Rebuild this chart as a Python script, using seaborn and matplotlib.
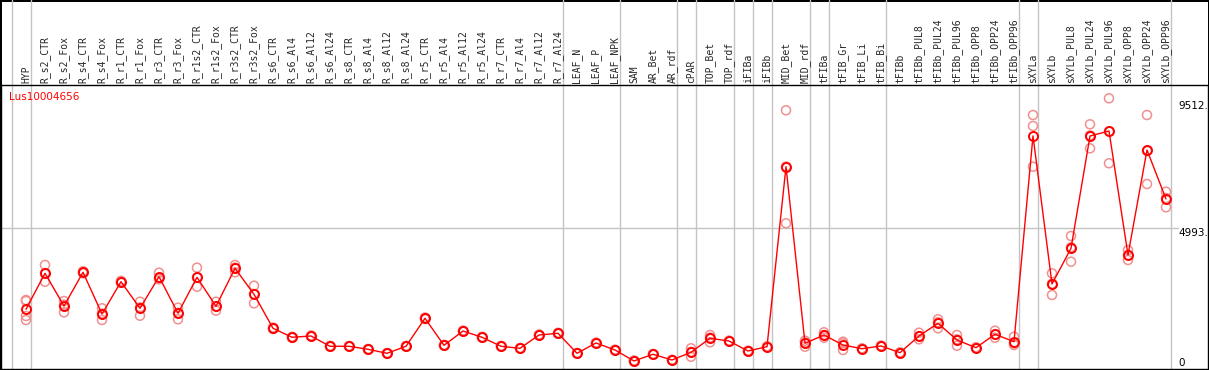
import matplotlib
matplotlib.use("Agg")
import matplotlib.pyplot as plt
import matplotlib.transforms as mtransforms
import seaborn as sns
import pandas as pd

# expression profile of one gene over tissues / treatments
gene = "Lus10004656"

tissues = [
    "HYP",
    "R_s2_CTR", "R_s2_Fox", "R_s4_CTR", "R_s4_Fox", "R_r1_CTR", "R_r1_Fox",
    "R_r3_CTR", "R_r3_Fox", "R_r1s2_CTR", "R_r1s2_Fox", "R_r3s2_CTR", "R_r3s2_Fox",
    "R_s6_CTR", "R_s6_Al4", "R_s6_Al12", "R_s6_Al24",
    "R_s8_CTR", "R_s8_Al4", "R_s8_Al12", "R_s8_Al24",
    "R_r5_CTR", "R_r5_Al4", "R_r5_Al12", "R_r5_Al24",
    "R_r7_CTR", "R_r7_Al4", "R_r7_Al12", "R_r7_Al24",
    "LEAF_N", "LEAF_P", "LEAF_NPK",
    "SAM", "AR_Bet", "AR_rdf",
    "cPAR",
    "TOP_Bet", "TOP_rdf",
    "iFIBa",
    "iFIBb",
    "MID_Bet", "MID_rdf",
    "tFIBa",
    "tFIB_Gr", "tFIB_Li", "tFIB_Bi",
    "tFIBb", "tFIBb_PUL8", "tFIBb_PUL24", "tFIBb_PUL96",
    "tFIBb_OPP8", "tFIBb_OPP24", "tFIBb_OPP96",
    "sXYLa",
    "sXYLb", "sXYLb_PUL8", "sXYLb_PUL24", "sXYLb_PUL96",
    "sXYLb_OPP8", "sXYLb_OPP24", "sXYLb_OPP96",
]

# replicate values per tissue
replicates = [
    [2425, 2389, 1854, 1712],
    [3673, 3077, 3381], [2389, 1986, 2258], [3450, 3380, 3409], [2129, 1712, 1937],
    [3110, 3050, 3071], [2364, 1865, 2158], [3398, 3209, 3161], [2150, 1737, 1966],
    [3577, 2899, 3226], [2364, 2043, 2193], [3673, 3413, 3579], [2935, 2307, 2642],
    [1440, 1395, 1413], [1110, 1080, 1095], [1160, 1125, 1138], [790, 760, 772],
    [785, 765, 772], [680, 655, 666], [535, 515, 522], [790, 760, 772],
    [1800, 1745, 1771], [825, 795, 807], [1335, 1300, 1322], [1110, 1080, 1095],
    [790, 760, 772], [715, 690, 701], [1195, 1160, 1176], [1255, 1220, 1236],
    [535, 515, 522], [905, 880, 891], [655, 630, 641],
    [270, 235, 245], [500, 475, 492], [295, 275, 285],
    [702, 403, 575],
    [1177, 916, 1084], [975, 950, 964],
    [620, 595, 603],
    [775, 745, 760],
    [9190, 5160, 7184], [974, 760, 909],
    [1273, 1080, 1178],
    [938, 642, 880], [700, 675, 689], [800, 770, 785],
    [560, 535, 543], [1259, 1023, 1141], [1737, 1416, 1629], [1177, 795, 1022],
    [740, 710, 722], [1330, 1080, 1196], [1116, 820, 878],
    [9022, 8630, 7178],
    [3377, 2603, 3005], [4707, 3791, 4306], [8690, 7834, 8295], [9617, 7300, 8436],
    [4208, 3851, 4031], [9022, 6561, 7739], [6287, 5731, 6063],
]

# number of columns in each group (separated by grey lines)
group_sizes = [1, 28, 3, 3, 1, 2, 1, 1, 2, 1, 3, 7, 1, 7]

scale_values = [0, 4993, 9512]
scale_labels = ["0", "4993.", "9512."]

rows = []
for t, vals in zip(tissues, replicates):
    for v in vals:
        rows.append({"tissue": t, "value": v})
df = pd.DataFrame(rows)
df["tissue"] = pd.Categorical(df["tissue"], categories=tissues, ordered=True)

sns.set_style("white")
plt.rcParams["font.family"] = ["DejaVu Sans"]

W, H = 1209, 370
fig = plt.figure(figsize=(W / 100, H / 100), dpi=100, edgecolor="black", linewidth=2)
ax = fig.add_axes([1 / W, 1 / H, 1207 / W, 284 / H])

grey = "#c4c4c4"
# group separators, running through the header as well
bounds = [-0.76]
pos = -1
for g in group_sizes:
    pos += g
    bounds.append(pos + 0.24)
for b in bounds:
    ax.axvline(b, ymin=0, ymax=1 + 85 / 284, color=grey, lw=1, clip_on=False, zorder=0)
ax.axhline(scale_values[1], xmin=0, xmax=(1178 - 1) / 1207, color=grey, lw=1, zorder=0)

# replicates
sns.scatterplot(data=df, x="tissue", y="value", ax=ax, marker="o", s=42,
                facecolor="none", edgecolor="#f09090", linewidth=1.1, zorder=2, legend=False)
# mean profile
sns.lineplot(data=df, x="tissue", y="value", ax=ax, estimator="mean", errorbar=None,
             color="red", lw=1, marker="o", markersize=6.5, markerfacecolor="none",
             markeredgecolor="red", markeredgewidth=1.4, zorder=3, legend=False)

ax.set_xlim(-25 / 19, 1207 / 19 - 25 / 19)
ax.set_ylim(-36, 10092)
ax.set_xticks(range(len(tissues)))
ax.set_xticklabels(tissues, family="DejaVu Sans Mono", fontsize=7)
ax.tick_params(axis="x", bottom=False, top=True, labelbottom=False, labeltop=True,
               length=0, pad=1.5, labelrotation=90)
ax.set_yticks([])
ax.set_xlabel("")
ax.set_ylabel("")
for sp in ax.spines.values():
    sp.set_color("black")
    sp.set_linewidth(1)

# scale labels on the right
trans = mtransforms.blended_transform_factory(ax.transAxes, ax.transData)
for v, lab in zip(scale_values, scale_labels):
    ax.text((1178 - 1) / 1207, v, lab, transform=trans, fontsize=7.5,
            ha="left", va="bottom" if v == 0 else "top", color="black")

fig.text(9 / W, 1 - 97 / H, gene, color="red", fontsize=7.5, ha="left", va="center")

fig.savefig("out.png", dpi=100, edgecolor="black")
